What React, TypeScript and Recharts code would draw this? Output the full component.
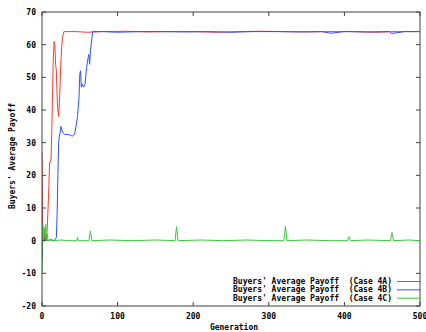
import React from "react";
import {
  LineChart,
  Line,
  XAxis,
  YAxis,
} from "recharts";

// generation / payoff pairs
const genA = [0, 1, 2, 3, 4, 5, 6, 7, 8, 9, 10, 11, 12, 13, 14, 15, 16, 17, 18, 19, 20, 21, 22, 23, 24, 25, 26, 27, 28, 29, 30, 45, 60, 80, 110, 140, 170, 200, 230, 260, 290, 320, 350, 380, 410, 440, 470, 500];
const payoffA = [27, 0, 1, 0, 2, 0, 1, 4, 10, 16, 24, 24, 25, 34, 46, 56, 61, 60, 54, 52, 44, 40, 38, 42, 48, 55, 59, 62, 63, 64, 64, 64, 63.8, 64, 64.1, 63.9, 64, 64, 63.8, 64, 64.1, 64, 63.9, 64, 64, 63.8, 64, 64];

const genB = [0, 1, 2, 3, 5, 8, 12, 16, 18, 19, 20, 21, 22, 23, 24, 25, 26, 28, 30, 35, 40, 43, 45, 47, 49, 50, 51, 52, 53, 55, 57, 59, 61, 62, 63, 64, 66, 67, 80, 100, 130, 160, 190, 220, 250, 280, 310, 340, 370, 382, 400, 430, 460, 462, 480, 500];
const payoffB = [-6, 0, 1, 0, 0.5, 0, 0.3, 0, 0.5, 1, 8, 20, 30, 32, 33, 35, 34, 33, 32.5, 32.5, 32, 32.5, 35, 38, 44, 51, 52, 47, 48, 47, 48, 53, 56, 57, 54, 58, 62, 64, 64, 63.8, 64, 64, 63.9, 64, 63.8, 64, 64, 63.9, 64, 63.5, 64, 63.9, 64, 63.4, 64, 64];

const genC = [0, 1, 2, 3, 4, 5, 6, 7, 8, 10, 15, 25, 35, 46, 47, 48, 62, 64, 66, 90, 120, 150, 176, 178, 180, 210, 240, 270, 300, 320, 322, 324, 350, 380, 404, 406, 408, 430, 461, 463, 465, 485, 500];
const payoffC = [-10, 5, 0, 4, 1, 5, 0, 2, 0, 0.3, 0, 0.2, 0, 0, 1, 0, 0, 3, 0, 0.2, 0, 0.2, 0, 4.3, 0, 0.2, 0, 0.2, 0, 0, 4.4, 0, 0.2, 0, 0, 1.2, 0, 0.2, 0, 2.5, 0, 0.2, 0];

const xTicks = [0, 100, 200, 300, 400, 500];
const yTicks = [-20, -10, 0, 10, 20, 30, 40, 50, 60, 70];
const xDomain = [0, 500];
const yDomain = [-20, 70];

const seriesNames = [
  "Buyers' Average Payoff  (Case 4A)",
  "Buyers' Average Payoff  (Case 4B)",
  "Buyers' Average Payoff  (Case 4C)",
];
const seriesColors = ["#ff3a2a", "#3050ff", "#3cc83c"];

const toPoints = (gens: number[], vals: number[]) =>
  gens.map((g, i) => ({ g, v: vals[i] }));

const FONT = "'DejaVu Sans Mono', monospace";
const AXIS = "#404040";

// chart layout
const W = 426;
const H = 332;
const M = { top: 12, right: 6, bottom: 0, left: 0 };
const YAXIS_W = 42;
const XAXIS_H = 26;
const PLOT_X = M.left + YAXIS_W;
const PLOT_Y = M.top;
const PLOT_W = W - M.left - M.right - YAXIS_W;
const PLOT_H = H - M.top - M.bottom - XAXIS_H;
const PLOT_R = PLOT_X + PLOT_W;

// positions of the mirrored top/right ticks
const fx = (v: number) => PLOT_X + ((v - xDomain[0]) / (xDomain[1] - xDomain[0])) * PLOT_W;
const fy = (v: number) => PLOT_Y + PLOT_H - ((v - yDomain[0]) / (yDomain[1] - yDomain[0])) * PLOT_H;

const BottomTick = (p: any) => {
  const cx = p.payload.coordinate ?? p.x;
  const base = PLOT_Y + PLOT_H;
  return (
    <g>
      <line x1={cx} x2={cx} y1={base} y2={base - 4} stroke={AXIS} />
      <text x={cx} y={base + 13} textAnchor="middle" fontFamily={FONT} fontWeight="bold" fontSize={8} fill="#000">
        {p.payload.value}
      </text>
    </g>
  );
};
const LeftTick = (p: any) => {
  const cy = p.payload.coordinate ?? p.y;
  return (
    <g>
      <line x1={PLOT_X} x2={PLOT_X + 4} y1={cy} y2={cy} stroke={AXIS} />
      <text x={PLOT_X - 6} y={cy + 3} textAnchor="end" fontFamily={FONT} fontWeight="bold" fontSize={8} fill="#000">
        {p.payload.value}
      </text>
    </g>
  );
};

export default function App() {
  const data = [toPoints(genA, payoffA), toPoints(genB, payoffB), toPoints(genC, payoffC)];
  return (
    <div style={{ position: "absolute", left: 0, top: 0, width: W, height: H, background: "#fff" }}>
      <LineChart width={W} height={H} margin={M}>
        <XAxis
          dataKey="g"
          type="number"
          domain={xDomain}
          ticks={xTicks}
          interval={0}
          allowDataOverflow
          height={XAXIS_H}
          tickSize={0}
          tickMargin={0}
          tickLine={false}
          stroke={AXIS}
          tick={<BottomTick />}
          label={(lp: any) => {
            const vb = lp.viewBox;
            return (
              <text x={vb.x + vb.width / 2 + 3} y={vb.y + 24} textAnchor="middle" fontFamily={FONT} fontWeight="bold" fontSize={8} fill="#000">
                Generation
              </text>
            );
          }}
        />
        <YAxis
          type="number"
          domain={yDomain}
          ticks={yTicks}
          interval={0}
          allowDataOverflow
          width={YAXIS_W}
          tickSize={0}
          tickMargin={0}
          tickLine={false}
          stroke={AXIS}
          tick={<LeftTick />}
          label={(lp: any) => {
            const vb = lp.viewBox;
            const cx = vb.x + 15;
            const cy = vb.y + vb.height / 2 - 3;
            return (
              <text x={cx} y={cy} transform={`rotate(-90 ${cx} ${cy})`} textAnchor="middle" fontFamily={FONT} fontWeight="bold" fontSize={8} fill="#000">
                Buyers' Average Payoff
              </text>
            );
          }}
        />
        {data.map((d, i) => (
          <Line
            key={seriesNames[i]}
            data={d}
            dataKey="v"
            name={seriesNames[i]}
            type="linear"
            stroke={seriesColors[i]}
            strokeWidth={1}
            dot={false}
            isAnimationActive={false}
          />
        ))}
        {/* closed gnuplot-style border with mirrored ticks */}
        <g stroke={AXIS} strokeWidth={1} fill="none">
          <line x1={PLOT_X} x2={PLOT_R} y1={PLOT_Y} y2={PLOT_Y} />
          <line x1={PLOT_R} x2={PLOT_R} y1={PLOT_Y} y2={PLOT_Y + PLOT_H} />
          {xTicks.map((t) => (
            <line key={"tx" + t} x1={fx(t)} x2={fx(t)} y1={PLOT_Y} y2={PLOT_Y + 4} />
          ))}
          {yTicks.map((t) => (
            <line key={"ty" + t} x1={PLOT_R} x2={PLOT_R - 4} y1={fy(t)} y2={fy(t)} />
          ))}
        </g>
        <g fontFamily={FONT} fontWeight="bold" fontSize={8}>
          {seriesNames.map((n, i) => (
            <g key={n}>
              <text x={392} y={284 + i * 8.35} textAnchor="end" fill="#000" style={{ whiteSpace: "pre" }}>
                {n}
              </text>
              <line x1={397} x2={420} y1={281.5 + i * 8.35} y2={281.5 + i * 8.35} stroke={seriesColors[i]} strokeWidth={1} />
            </g>
          ))}
        </g>
      </LineChart>
    </div>
  );
}
